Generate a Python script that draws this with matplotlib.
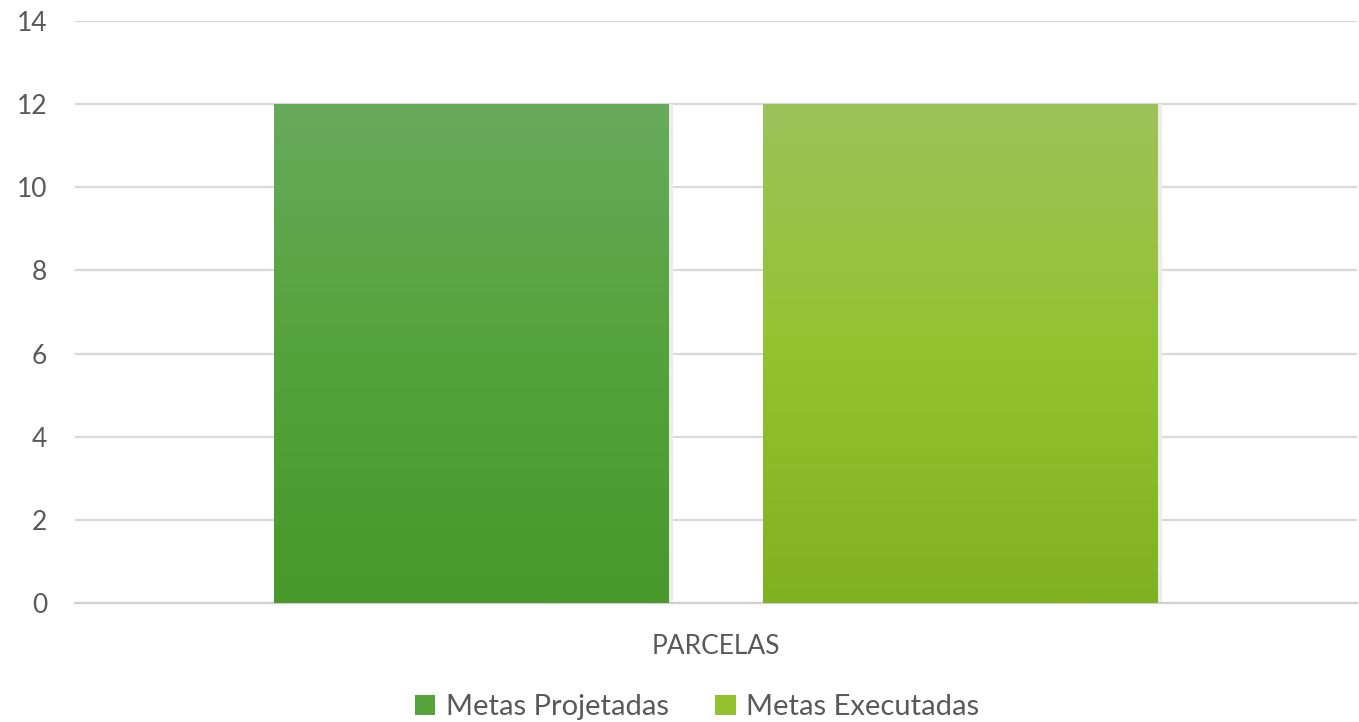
import matplotlib
matplotlib.use("Agg")
import matplotlib.pyplot as plt
import numpy as np
from matplotlib.colors import LinearSegmentedColormap
from matplotlib.patches import Patch

categories = ["PARCELAS"]
series_names = ["Metas Projetadas", "Metas Executadas"]
values_projetadas = [12]
values_executadas = [12]
yticks = [0, 2, 4, 6, 8, 10, 12, 14]

plt.rcParams['font.family'] = ['Lato', 'DejaVu Sans']
txt = '#595959'

fig = plt.figure(figsize=(13.59, 7.22), dpi=100)
fig.patch.set_facecolor('white')
ax = fig.add_axes([75/1359, 1-603/722, (1357-75)/1359, (603-21)/722])
ax.set_facecolor('none')

x = np.arange(len(categories))
w = 0.308
off = 0.1907
grads = [(['#67aa5c', '#55a33b', '#46992a']), (['#9cc35a', '#93c22f', '#80b122'])]
for vals, dx, g, name in [(values_projetadas, -off, grads[0], series_names[0]),
                          (values_executadas, off, grads[1], series_names[1])]:
    bars = ax.bar(x + dx, vals, width=w, color=g[1], zorder=3, label=name)
    cmap = LinearSegmentedColormap.from_list('g', g[::-1])
    for b in bars:
        x0, y0 = b.get_x(), b.get_y()
        x1, y1 = x0 + b.get_width(), y0 + b.get_height()
        ax.bar(b.get_x() + b.get_width()/2 + 0.0015, b.get_height(), width=b.get_width()+0.003,
               color='#ececec', zorder=2.5)
        grad = np.linspace(0, 1, 256).reshape(-1, 1)
        im = ax.imshow(grad, extent=[x0, x1, y0, y1], origin='lower', cmap=cmap,
                       aspect='auto', zorder=4)
        im.set_clip_path(b)

ax.set_xlim(-0.5, 0.5)
ax.set_ylim(0, 14)
ax.set_yticks(yticks)
ax.set_yticklabels([str(t) for t in yticks])
ax.set_xticks(x)
ax.set_xticklabels(categories)
ax.grid(axis='y', color='#d9d9d9', linewidth=1.6, zorder=0)
ax.set_axisbelow(True)
for s in ['top', 'right', 'left']:
    ax.spines[s].set_visible(False)
ax.spines['bottom'].set_color('#d0d0d0')
ax.spines['bottom'].set_linewidth(1.6)
ax.tick_params(axis='both', length=0, labelsize=19, labelcolor=txt)
ax.tick_params(axis='y', pad=20)
ax.tick_params(axis='x', pad=22)

handles = [Patch(facecolor=grads[0][1], label=series_names[0]),
           Patch(facecolor=grads[1][1], label=series_names[1])]
fig.legend(handles=handles, loc='center', bbox_to_anchor=(697/1359, 1-707/722),
           ncol=2, frameon=False, fontsize=21, labelcolor=txt,
           handlelength=0.7, handleheight=0.7, handletextpad=0.35, columnspacing=1.6)

fig.savefig('out.png', dpi=100, facecolor='white')
